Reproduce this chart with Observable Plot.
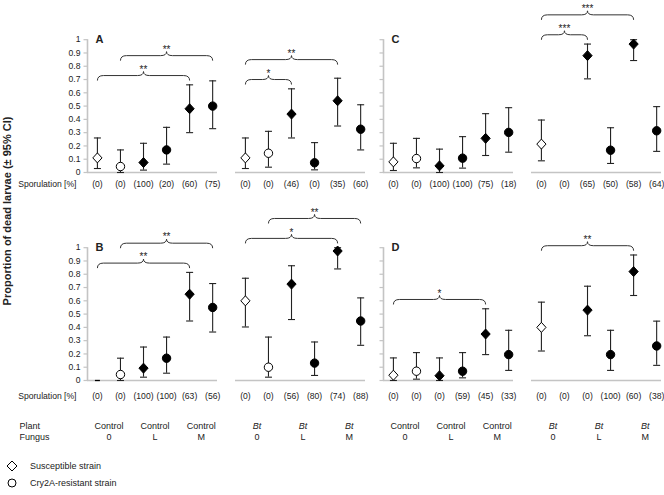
<!DOCTYPE html>
<html><head><meta charset="utf-8">
<script src="https://cdn.jsdelivr.net/npm/d3@7"></script>
<script src="https://cdn.jsdelivr.net/npm/@observablehq/plot@0.6"></script>
<style>
body{margin:0;background:#fff;font-family:"Liberation Sans",Arial,sans-serif;}
#chart{width:664px;}
.legend{font-size:9px;color:#222;padding-top:7px;}
.legend div{height:17px;display:flex;align-items:center;}
.legend svg{margin-left:6px;margin-right:12px;}
</style></head><body>
<div id="chart"></div>
<div class="legend">
  <div><svg width="12" height="12"><polygon points="6,1 11,6 6,11 1,6" fill="white" stroke="black" stroke-width="1"/></svg>Susceptible strain</div>
  <div><svg width="12" height="12"><circle cx="6" cy="6" r="4" fill="white" stroke="black" stroke-width="1"/></svg>Cry2A-resistant strain</div>
</div>
<script>
// ---- categories ----
const plants = ["Control", "Bt"];
const fungi = ["0", "L", "M"];
const strains = ["Susceptible strain", "Cry2A-resistant strain"];
const panels = ["A", "B", "C", "D"];
const yTicks = [0,0.1,0.2,0.3,0.4,0.5,0.6,0.7,0.8,0.9,1];

// ---- values: order per panel = Control(0 S,0 R,L S,L R,M S,M R), Bt(same) ----
const meanA = [0.11,0.045,0.075,0.17,0.48,0.50, 0.11,0.145,0.44,0.073,0.54,0.326];
const lowA  = [0.03,0.0,0.018,0.063,0.30,0.33, 0.03,0.04,0.26,0.02,0.35,0.17];
const highA = [0.26,0.17,0.22,0.34,0.66,0.69, 0.26,0.31,0.63,0.225,0.71,0.51];
const sporA = [0,0,100,20,60,75, 0,0,46,0,35,60];

const meanB = [0,0.045,0.093,0.168,0.65,0.55, 0.60,0.10,0.726,0.131,0.975,0.448];
const lowB  = [null,0.0,0.025,0.055,0.448,0.365, 0.403,0.025,0.459,0.038,0.84,0.265];
const highB = [null,0.168,0.252,0.327,0.814,0.73, 0.77,0.327,0.864,0.29,1.0,0.622];
const sporB = [0,0,100,100,63,56, 0,0,56,80,74,88];

const meanC = [0.08,0.105,0.05,0.108,0.257,0.302, 0.214,null,0.88,0.168,0.967,0.314];
const lowC  = [0.015,0.035,0.0,0.033,0.128,0.153, 0.088,null,0.705,0.068,0.843,0.159];
const highC = [0.22,0.257,0.176,0.27,0.443,0.488, 0.395,null,0.967,0.337,1.0,0.496];
const sporC = [0,0,100,100,75,18, 0,0,65,50,58,64];

const meanD = [0.04,0.07,0.036,0.07,0.35,0.195, 0.40,null,0.53,0.195,0.82,0.26];
const lowD  = [0.0,0.01,0.0,0.02,0.195,0.076, 0.222,null,0.337,0.076,0.64,0.114];
const highD = [0.17,0.21,0.17,0.21,0.54,0.378, 0.59,null,0.71,0.378,0.945,0.447];
const sporD = [0,0,0,59,45,33, 0,0,0,100,60,38];

// significance brackets: [plant, from point, to point, stars]
const sigA = [["Control",0,4,"**"],["Control",1,5,"**"],["Bt",0,2,"*"],["Bt",0,4,"**"]];
const sigB = [["Control",0,4,"**"],["Control",1,5,"**"],["Bt",0,4,"*"],["Bt",1,5,"**"]];
const sigC = [["Bt",0,2,"***"],["Bt",0,4,"***"]];
const sigD = [["Control",0,4,"*"],["Bt",0,4,"**"]];

// ---- layout of panels (row, column) ----
const panelPos = {A:[0,0], B:[1,0], C:[0,1], D:[1,1]};
const series = {A:[meanA,lowA,highA,sporA,sigA], B:[meanB,lowB,highB,sporB,sigB],
                C:[meanC,lowC,highC,sporC,sigC], D:[meanD,lowD,highD,sporD,sigD]};
const fxDomain = ["0-Control","0-Bt","1-Control","1-Bt"];
const xDomain = [0.57, 6.21];

const rows = [], brackets = [], facets = [], pairs = [];
for (const p of panels) {
  const [r, c] = panelPos[p];
  const [mean, low, high, spor, sig] = series[p];
  plants.forEach((plant, pi) => {
    const fx = `${c}-${plant}`;
    facets.push({panel: p, fy: r, fx, plant});
    const pts = [];
    fungi.forEach((f, fi) => {
      pairs.push({fx, fy: r, plant, fungus: f, x: fi * 2 + 1.5});
      strains.forEach((s, si) => {
        const i = pi * 6 + fi * 2 + si;
        const d = {panel: p, fy: r, fx, plant, fungus: f, strain: si, x: fi * 2 + si + 1,
          mean: mean[i], low: low[i], high: high[i], spor: spor[i], open: f === "0"};
        rows.push(d); pts.push(d);
      });
    });
    const placed = [];
    for (const [bp, a, b, stars] of sig) {
      if (bp !== plant) continue;
      let lvl = d3.max(pts.slice(a, b + 1), d => d.high ?? d.mean ?? 0) + 0.07;
      for (const q of placed) if (q.a <= b && q.b >= a) lvl = Math.max(lvl, q.level + 0.15);
      const br = {fx, fy: r, a, b, x1: a + 1, x2: b + 1, xm: (a + b) / 2 + 1, level: lvl, stars};
      placed.push(br); brackets.push(br);
    }
  });
}
const ctrlFacets = facets.filter(f => f.plant === "Control");
const tickData = ctrlFacets.flatMap(f => yTicks.map(v => ({...f, v})));
const tickLabelData = tickData.filter(d => d.fx === "0-Control");

// ---- custom symbols ----
const diamondSym = {draw(ctx){ctx.moveTo(0,-5);ctx.lineTo(4.6,0);ctx.lineTo(0,5);ctx.lineTo(-4.6,0);ctx.closePath();}};
const capSym = {draw(ctx){ctx.moveTo(-3.5,0);ctx.lineTo(3.5,0);}};
const tickSym = {draw(ctx){ctx.moveTo(-4,0);ctx.lineTo(0,0);}};
const dashSym = {draw(ctx){ctx.moveTo(-2.5,0);ctx.lineTo(2.5,0);}};

function braceCurve(context) {
  let pts = [];
  return {
    areaStart(){}, areaEnd(){},
    lineStart(){ pts = []; },
    point(x, y){ pts.push([x, y]); },
    lineEnd(){
      const [x1, y] = pts[0], [x2] = pts[1];
      const m = (x1 + x2) / 2, h = 5, rr = 6, t = 4;
      context.moveTo(x1, y + h);
      context.quadraticCurveTo(x1, y, x1 + rr, y);
      context.lineTo(m - rr, y);
      context.quadraticCurveTo(m, y, m, y - t);
      context.quadraticCurveTo(m, y, m + rr, y);
      context.lineTo(x2 - rr, y);
      context.quadraticCurveTo(x2, y, x2, y + h);
    }
  };
}

const withCI = rows.filter(d => d.mean != null && d.low != null);
const grey = "#c4c4c4", ink = "#222";

const chart = Plot.plot({
  width: 664, height: 450,
  marginLeft: 85, marginRight: 1, marginTop: 2, marginBottom: 70,
  style: {fontFamily: "'Liberation Sans', Arial, sans-serif", fontSize: "8.6px", color: ink},
  fx: {domain: fxDomain, paddingInner: 0.12, paddingOuter: 0, axis: null},
  fy: {domain: [0, 1], paddingInner: 0.1827, paddingOuter: 0, axis: null},
  x: {domain: xDomain, axis: null},
  y: {domain: [0, 1.28], axis: null},
  marks: [
    Plot.ruleY([0], {stroke: grey, strokeWidth: 1.6}),
    Plot.ruleX(ctrlFacets, {fx: "fx", fy: "fy", x: () => xDomain[0], y1: () => 0, y2: () => 1, stroke: grey, strokeWidth: 1.6}),
    Plot.dot(tickData, {fx: "fx", fy: "fy", y: "v", frameAnchor: "left", symbol: tickSym, stroke: grey, strokeWidth: 1.2, r: 3}),
    Plot.text(tickLabelData, {fx: "fx", fy: "fy", y: "v", text: d => String(d.v), frameAnchor: "left", textAnchor: "end", dx: -7, fill: ink}),
    Plot.text(ctrlFacets, {fx: "fx", fy: "fy", y: () => 1, text: "panel", frameAnchor: "left", textAnchor: "start", dx: 8, fontWeight: "bold", fontSize: 11, fill: ink}),
    // error bars
    Plot.ruleX(withCI, {fx: "fx", fy: "fy", x: "x", y1: "low", y2: "high", stroke: ink, strokeWidth: 1.1}),
    Plot.dot(withCI, {fx: "fx", fy: "fy", x: "x", y: "low", symbol: capSym, stroke: ink, strokeWidth: 1.1, r: 3}),
    Plot.dot(withCI, {fx: "fx", fy: "fy", x: "x", y: "high", symbol: capSym, stroke: ink, strokeWidth: 1.1, r: 3}),
    // markers
    Plot.dot(rows.filter(d => d.mean != null && d.low == null), {fx: "fx", fy: "fy", x: "x", y: "mean", symbol: dashSym, stroke: "#000", strokeWidth: 1.3, r: 3}),
    Plot.dot(withCI.filter(d => d.strain === 0), {fx: "fx", fy: "fy", x: "x", y: "mean", symbol: diamondSym, r: 4,
      fill: d => d.open ? "white" : "black", stroke: "black", strokeWidth: 1}),
    Plot.dot(withCI.filter(d => d.strain === 1), {fx: "fx", fy: "fy", x: "x", y: "mean", symbol: "circle", r: 4.2,
      fill: d => d.open ? "white" : "black", stroke: "black", strokeWidth: 1}),
    // brackets
    Plot.link(brackets, {fx: "fx", fy: "fy", x1: "x1", x2: "x2", y1: "level", y2: "level", curve: braceCurve, stroke: "#333", strokeWidth: 1}),
    Plot.text(brackets, {fx: "fx", fy: "fy", x: "xm", y: "level", text: "stars", dy: -6, fontSize: 10, fill: ink}),
    // sporulation labels
    Plot.text(rows.filter(d => d.fy === 0), {fx: "fx", fy: "fy", x: "x", text: d => `(${d.spor})`, frameAnchor: "bottom", dy: 14, fill: ink}),
    Plot.text(rows.filter(d => d.fy === 1), {fx: "fx", fy: "fy", x: "x", text: d => `(${d.spor})`, frameAnchor: "bottom", dy: 18, fill: ink}),
    Plot.text([{fx: "0-Control", fy: 0}], {fx: "fx", fy: "fy", text: () => "Sporulation [%]", frameAnchor: "bottom-left", textAnchor: "end", dx: -11, dy: 14, fill: ink}),
    Plot.text([{fx: "0-Control", fy: 1}], {fx: "fx", fy: "fy", text: () => "Sporulation [%]", frameAnchor: "bottom-left", textAnchor: "end", dx: -11, dy: 18, fill: ink}),
    // plant / fungus labels
    Plot.text([{fx: "0-Control", fy: 1}], {fx: "fx", fy: "fy", text: () => "Plant", frameAnchor: "bottom-left", textAnchor: "start", dx: -68, dy: 48, fontSize: 9, fill: ink}),
    Plot.text([{fx: "0-Control", fy: 1}], {fx: "fx", fy: "fy", text: () => "Fungus", frameAnchor: "bottom-left", textAnchor: "start", dx: -68, dy: 59, fontSize: 9, fill: ink}),
    Plot.text(pairs.filter(d => d.fy === 1 && d.plant === "Control"), {fx: "fx", fy: "fy", x: "x", text: "plant", frameAnchor: "bottom", dy: 48, fontSize: 9, fill: ink}),
    Plot.text(pairs.filter(d => d.fy === 1 && d.plant === "Bt"), {fx: "fx", fy: "fy", x: "x", text: "plant", frameAnchor: "bottom", dy: 48, fontSize: 9, fontStyle: "italic", fill: ink}),
    Plot.text(pairs.filter(d => d.fy === 1), {fx: "fx", fy: "fy", x: "x", text: "fungus", frameAnchor: "bottom", dy: 59, fontSize: 9, fill: ink})
  ]
});

d3.select(chart).append("text")
  .attr("transform", "translate(11,211) rotate(-90)")
  .attr("text-anchor", "middle")
  .attr("font-weight", "bold")
  .attr("font-size", 11)
  .attr("fill", ink)
  .text("Proportion of dead larvae (± 95% CI)");

document.getElementById("chart").appendChild(chart);
</script>
</body></html>
